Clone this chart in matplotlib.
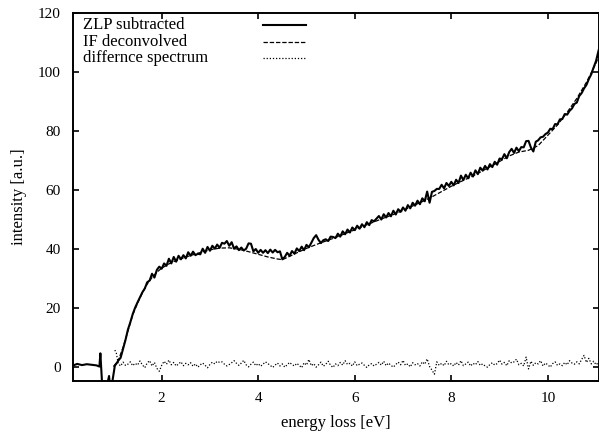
import numpy as np
import matplotlib
matplotlib.use("Agg")
import matplotlib.pyplot as plt

plt.rcParams['font.family'] = ['Liberation Serif', 'DejaVu Serif']

# onset region of the ZLP subtracted spectrum (explicit energies)
onset_energy = [0.17, 0.25, 0.35, 0.45, 0.55, 0.65, 0.71, 0.73, 0.77, 0.86, 0.91, 0.93, 0.96, 1.03, 1.07]
onset_intensity = [0.4, 0.9, 0.5, 0.8, 0.6, 0.4, 0.0, 4.5, -7, -7, -3.2, -7, -7, 0.3, 1.2]

# ZLP subtracted spectrum, 1.10 .. 11.10 eV in 0.05 eV steps
grid_start = 1.10
grid_step = 0.05
zlp_subtracted = [
    2.0, 3.0, 6.0, 9.0, 12.5, 15.0, 17.8, 20.0, 21.8, 23.5,
    25.2, 26.5, 28.6, 29.2, 31.5, 30.2, 32.8, 33.9, 33.2, 35.0,
    34.2, 36.6, 35.0, 37.2, 35.6, 37.6, 36.4, 37.8, 36.7, 38.8,
    37.6, 39.0, 37.8, 38.3, 38.1, 40.0, 38.6, 40.6, 39.3, 41.0,
    40.0, 41.4, 40.3, 42.0, 41.7, 42.6, 41.0, 42.2, 40.0, 40.8,
    39.5, 40.4, 39.4, 40.0, 41.8, 41.7, 39.1, 39.9, 38.6, 39.6,
    38.6, 39.5, 38.5, 39.7, 38.7, 39.6, 38.8, 39.1, 36.4, 37.2,
    38.6, 37.6, 39.2, 38.3, 40.1, 39.2, 40.7, 39.5, 41.3, 40.5,
    42.0, 43.6, 44.6, 43.0, 41.9, 42.9, 43.2, 42.6, 44.1, 44.0,
    43.6, 45.1, 44.1, 45.9, 44.9, 46.5, 45.5, 47.2, 46.3, 47.8,
    46.8, 48.3, 47.3, 49.0, 48.0, 49.7, 49.3, 50.2, 51.1, 49.9,
    51.7, 50.6, 52.1, 51.0, 52.9, 51.6, 53.4, 52.5, 54.0, 52.9,
    54.8, 53.7, 55.6, 54.6, 56.3, 55.1, 57.1, 56.1, 59.4, 55.6,
    59.3, 59.6, 60.3, 60.3, 61.7, 60.5, 62.3, 61.3, 62.7, 61.5,
    63.4, 62.3, 64.8, 63.3, 65.1, 63.9, 65.8, 64.5, 66.6, 65.3,
    67.5, 66.5, 68.1, 66.9, 68.7, 67.7, 69.5, 68.5, 70.6, 70.4,
    72.1, 70.7, 72.8, 73.9, 72.5, 74.3, 73.1, 74.5, 74.4, 76.5,
    76.6, 74.3, 73.0, 76.3, 76.8, 77.8, 78.0, 78.9, 79.4, 80.7,
    80.6, 82.3, 82.2, 83.9, 84.0, 85.7, 85.5, 86.8, 87.6, 89.1,
    89.6, 91.8, 92.8, 94.4, 95.6, 97.6, 99.2, 101.6, 103.8, 107.2,
    110.0,
]

# difference spectrum on the same grid, plus two leading points at the onset
diff_onset_energy = [1.03, 1.06]
diff_onset_intensity = [5.6, 4.6]
difference = [
    1.0, 0.2, 1.5, 0.4, 0.8, 1.6, 0.3, 1.1, 0.5, 1.9,
    0.6, -0.4, 1.2, 2.0, 0.2, 1.4, -0.6, -1.6, 0.4, 1.8,
    0.8, 2.2, 0.6, 1.4, 0.2, 0.9, 1.6, 0.3, 1.1, 0.6,
    1.3, 0.1, 0.9, -0.2, 0.6, 1.2, 0.4, -0.4, 0.7, 1.5,
    0.9, 1.8, 1.4, 1.6, 0.8, 0.2, 0.7, 1.3, 2.0, 1.1,
    0.4, 1.2, 2.1, 0.6, -0.1, 0.8, 1.5, 0.3, 1.0, 0.1,
    0.8, 1.6, 1.0, 0.4, -0.3, 0.5, 1.2, 0.2, 0.9, -0.2,
    0.6, 1.4, 0.7, 0.2, 1.1, 0.4, -0.4, 1.3, 0.5, 2.4,
    0.3, 1.0, -0.2, 0.6, 1.5, 0.1, 0.8, 1.8, 0.4, -0.3,
    0.9, 0.3, 1.4, 0.5, 2.0, 0.7, 1.1, 0.2, 1.6, 0.3,
    0.8, 1.2, 0.4, -0.3, 0.6, 1.0, 0.2, 0.8, 1.4, 0.5,
    1.8, 0.3, 1.2, 0.4, -0.2, 0.7, 1.5, 0.6, 2.1, 0.4,
    0.9, -0.1, 1.3, 0.6, 1.0, 0.2, 1.6, 0.8, 2.6, 0.0,
    -1.2, -2.6, 1.6, 0.4, 1.1, 0.3, 1.8, 0.6, 1.0, 0.2,
    1.4, 0.5, 2.0, 0.3, 0.9, 1.5, 0.2, 1.1, 0.6, 1.7,
    0.4, 0.9, 0.2, -0.2, 0.7, 1.3, 0.5, 1.0, 2.2, 0.8,
    1.4, 0.3, 2.0, 1.2, 1.6, 2.5, 0.6, 1.1, 0.2, 3.2,
    -0.8, 1.8, 0.4, 1.3, 0.9, 2.0, 0.2, 1.2, 0.6, -0.2,
    1.0, 1.6, 0.4, 0.9, 0.3, 1.4, 0.6, 2.0, 1.2, 0.8,
    1.6, 0.9, 2.4, 3.8, 1.4, 2.8, 0.9, 1.8, 0.6, 1.4,
    0.8,
]

# IF deconvolved (smooth) spectrum
deconv_energy = [1.0, 1.1, 1.2, 1.3, 1.4, 1.5, 1.6, 1.7, 1.8, 1.9, 2.0, 2.2, 2.4, 2.6, 2.8,
                 3.0, 3.2, 3.4, 3.6, 3.8, 4.0, 4.2, 4.4, 4.5, 4.6, 4.8, 5.0, 5.2, 5.4, 5.6,
                 5.8, 6.0, 6.2, 6.4, 6.6, 6.8, 7.0, 7.2, 7.4, 7.6, 7.8, 8.0, 8.2, 8.4, 8.6,
                 8.8, 9.0, 9.2, 9.4, 9.6, 9.8, 10.0, 10.2, 10.4, 10.6, 10.8, 11.0, 11.1]
deconv_intensity = [0.0, 2.0, 6.5, 12.0, 17.5, 21.5, 25.0, 28.0, 30.2, 32.0, 33.4, 35.3, 36.6, 37.7, 38.7,
                    39.6, 40.2, 40.3, 39.8, 39.0, 38.1, 37.2, 36.5, 36.3, 37.0, 38.6, 40.1, 41.4, 42.6, 43.8,
                    45.1, 46.4, 47.8, 49.1, 50.4, 51.6, 53.0, 54.5, 56.0, 57.6, 59.4, 61.2, 62.8, 64.3, 66.0,
                    67.8, 69.6, 71.5, 72.8, 73.4, 75.0, 78.5, 82.0, 86.3, 91.0, 96.5, 103.0, 107.5]

labels = ['ZLP subtracted', 'IF deconvolved', 'differnce spectrum']
styles = ['-', (0, (3.5, 1.5)), (0, (1, 1.5))]
widths = [1.5, 0.9, 0.9]


def main():
    grid = grid_start + grid_step * np.arange(len(zlp_subtracted))
    energy = np.concatenate([onset_energy, grid])
    intensity = np.concatenate([onset_intensity, zlp_subtracted])
    diff_energy = np.concatenate([diff_onset_energy, grid_start + grid_step * np.arange(len(difference))])
    diff_intensity = np.concatenate([diff_onset_intensity, difference])

    fig = plt.figure(figsize=(5.99, 4.34), dpi=100)
    ax = fig.add_axes([73 / 599, 53 / 434, 526 / 599, 368 / 434])

    ax.plot(energy, intensity, color='black', lw=widths[0], ls=styles[0])
    ax.plot(deconv_energy, deconv_intensity, color='black', lw=widths[1], ls=styles[1])
    ax.plot(diff_energy, diff_intensity, color='black', lw=widths[2], ls=styles[2])

    ax.set_xlim(0.163, 11.06)
    ax.set_ylim(-4.9, 120)
    ax.set_xticks([2, 4, 6, 8, 10])
    ax.set_yticks([0, 20, 40, 60, 80, 100, 120])
    ax.tick_params(direction='in', top=True, right=True, length=4, width=1.2, labelsize=11)
    ax.tick_params(axis='x', pad=8)
    ax.tick_params(axis='y', pad=9)
    for sp in ax.spines.values():
        sp.set_linewidth(1.4)

    ax.set_xlabel('energy loss [eV]', fontsize=12, labelpad=7)
    ax.set_ylabel('intensity [a.u.]', fontsize=12, labelpad=8)

    # key, gnuplot style: left aligned text, sample lines on the right
    row_y = [0.967, 0.922, 0.878]
    for lab, st, lw, y in zip(labels, styles, widths, row_y):
        ax.text(0.019, y, lab, transform=ax.transAxes, fontsize=12, va='center', ha='left')
        ax.plot([0.361, 0.443], [y, y], transform=ax.transAxes, color='black', lw=lw, ls=st)

    plt.savefig('out.png', dpi=100)


if __name__ == '__main__':
    main()
